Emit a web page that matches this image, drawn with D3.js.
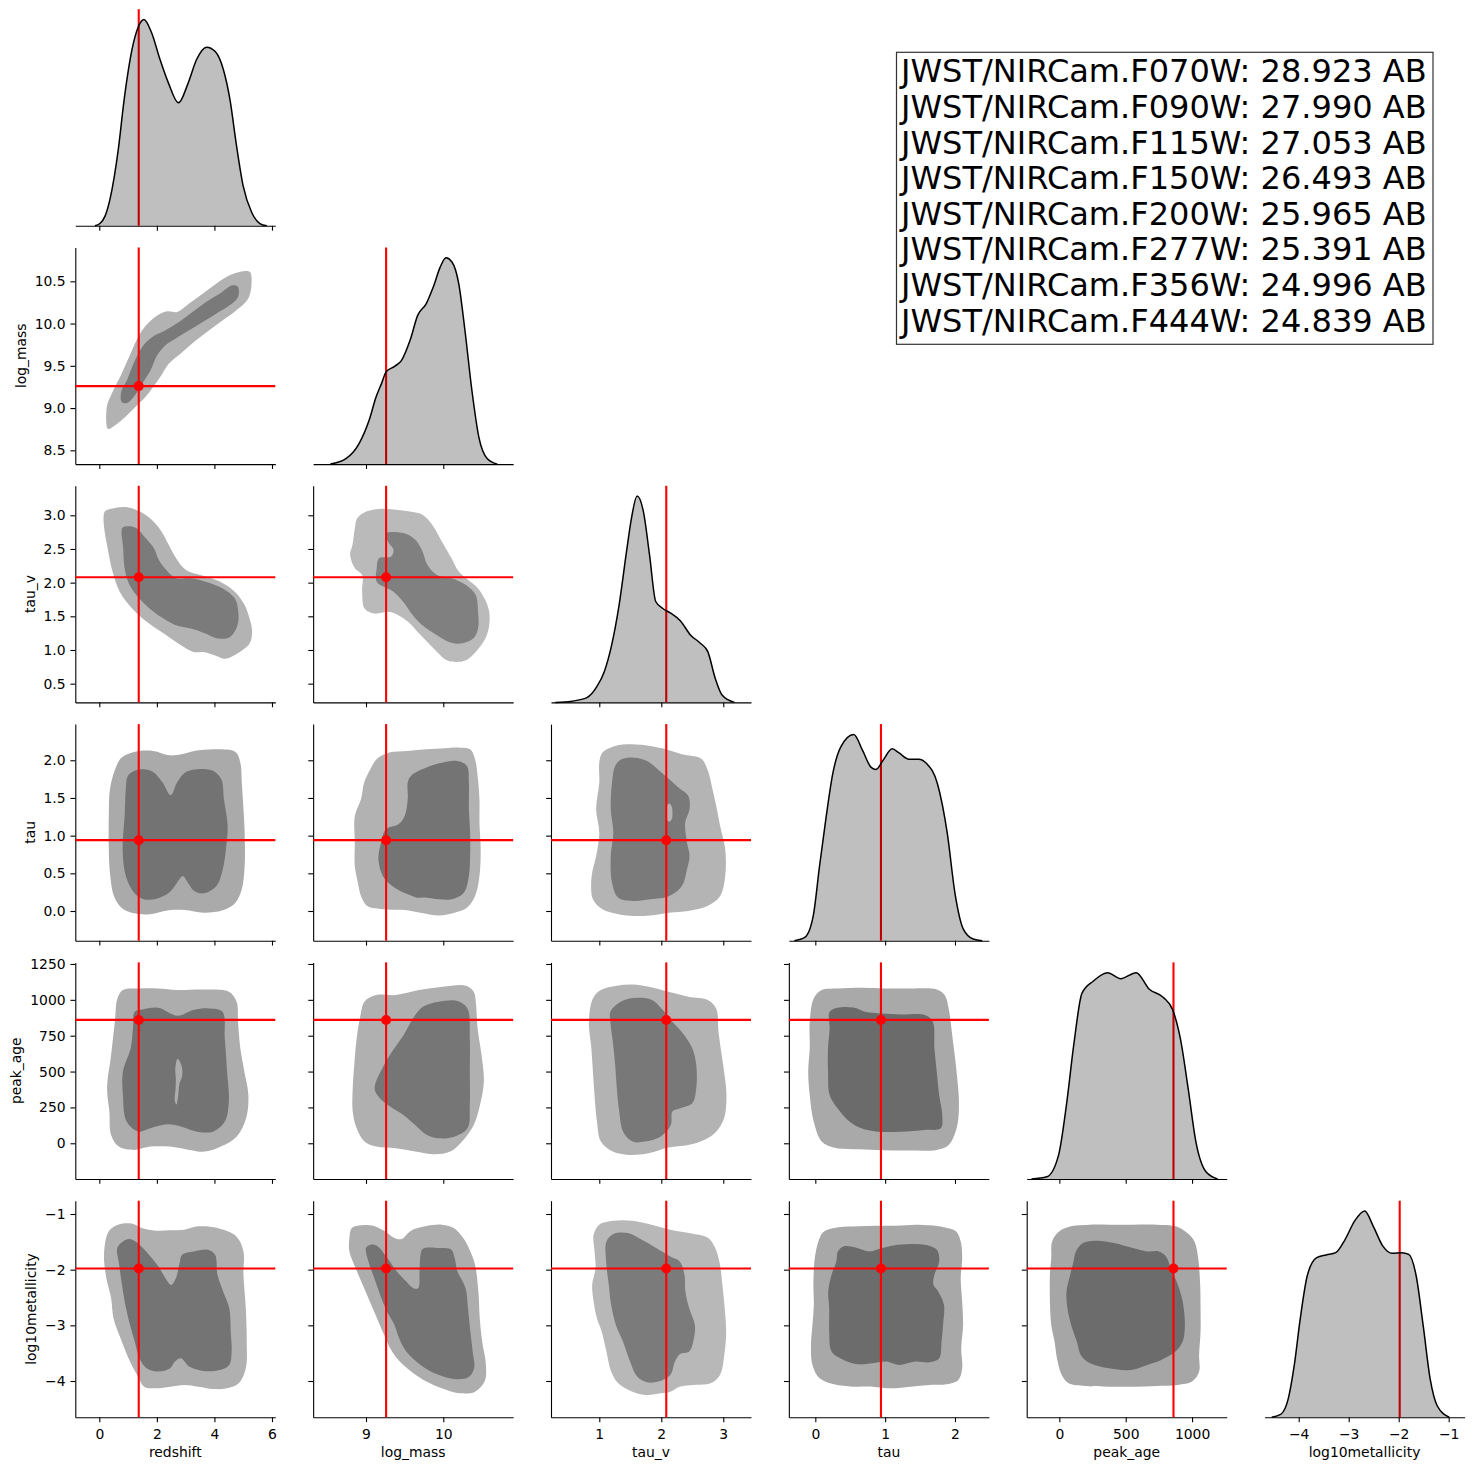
<!DOCTYPE html>
<html><head><meta charset="utf-8">
<script src="https://cdn.jsdelivr.net/npm/d3@7"></script>
<style>body{margin:0;background:#fff}</style>
</head><body>
<svg id="chart" width="1473" height="1470" xmlns="http://www.w3.org/2000/svg"></svg>
<script>
// ---------------- DATA ----------------
const variables = ["redshift","log_mass","tau_v","tau","peak_age","log10metallicity"];
const truthValues = [1.37, 9.26, 2.08, 0.94, 860, -1.98];
const xTickValues = [[0,2,4,6],[9,10],[1,2,3],[0,1,2],[0,500,1000],[-4,-3,-2,-1]];
const yTickValues = [null,[8.5,9.0,9.5,10.0,10.5],[0.5,1.0,1.5,2.0,2.5,3.0],[0.0,0.5,1.0,1.5,2.0],[0,250,500,750,1000,1250],[-4,-3,-2,-1]];
const filterNames = ["JWST/NIRCam.F070W","JWST/NIRCam.F090W","JWST/NIRCam.F115W","JWST/NIRCam.F150W","JWST/NIRCam.F200W","JWST/NIRCam.F277W","JWST/NIRCam.F356W","JWST/NIRCam.F444W"];
const magnitudes = [28.923, 27.990, 27.053, 26.493, 25.965, 25.391, 24.996, 24.839];

// 1D KDE curves [value, relative density]
const kdeRedshift = [[-0.15,0],[0.02,0.011],[0.2,0.047],[0.37,0.128],[0.66,0.37],[0.86,0.608],[1.13,0.85],[1.36,0.966],[1.55,1.0],[1.82,0.935],[2.11,0.806],[2.40,0.693],[2.75,0.596],[3.09,0.693],[3.38,0.806],[3.73,0.866],[4.02,0.846],[4.31,0.758],[4.54,0.612],[4.77,0.386],[5.0,0.192],[5.3,0.063],[5.58,0.011],[5.82,0]];
const kdeLogMass = [[8.54,0],[8.74,0.026],[8.91,0.099],[9.04,0.212],[9.13,0.325],[9.2,0.39],[9.26,0.447],[9.37,0.474],[9.46,0.503],[9.57,0.6],[9.67,0.722],[9.78,0.778],[9.87,0.858],[9.96,0.955],[10.035,1.0],[10.11,0.981],[10.2,0.875],[10.28,0.649],[10.37,0.358],[10.46,0.131],[10.57,0.026],[10.7,0]];
const kdeTauV = [[0.29,0],[0.56,0.006],[0.8,0.023],[0.96,0.076],[1.08,0.149],[1.2,0.279],[1.32,0.473],[1.44,0.733],[1.52,0.895],[1.61,1.0],[1.71,0.927],[1.81,0.716],[1.91,0.489],[2.03,0.454],[2.15,0.433],[2.31,0.395],[2.47,0.327],[2.63,0.287],[2.75,0.246],[2.87,0.117],[2.98,0.036],[3.18,0]];
const kdeTau = [[-0.3,0],[-0.15,0.016],[-0.03,0.12],[0.06,0.36],[0.155,0.6],[0.25,0.81],[0.365,0.94],[0.55,1.0],[0.68,0.92],[0.8,0.84],[0.87,0.83],[0.98,0.88],[1.1,0.93],[1.2,0.91],[1.34,0.88],[1.48,0.88],[1.59,0.86],[1.75,0.76],[1.89,0.52],[2.0,0.23],[2.12,0.056],[2.26,0.008],[2.39,0]];
const kdePeakAge = [[-210,0],[-94,0.011],[-6,0.116],[53,0.357],[111,0.662],[170,0.9],[257,0.96],[363,1.0],[462,0.971],[579,1.0],[678,0.92],[784,0.88],[854,0.82],[912,0.68],[971,0.437],[1029,0.18],[1105,0.035],[1193,0]];
const kdeMetallicity = [[-4.54,0],[-4.35,0.016],[-4.21,0.089],[-4.09,0.25],[-3.97,0.476],[-3.83,0.685],[-3.64,0.774],[-3.45,0.787],[-3.26,0.798],[-3.07,0.863],[-2.88,0.952],[-2.68,1.0],[-2.51,0.927],[-2.32,0.831],[-2.13,0.795],[-1.94,0.798],[-1.8,0.79],[-1.65,0.685],[-1.51,0.444],[-1.37,0.185],[-1.23,0.056],[-0.99,0]];

// 2D KDE contour outlines [x value, y value]
const logMassVsRedshiftOuter = [[0.29,8.756],[0.26,9.013],[0.43,9.17],[0.78,9.41],[1.08,9.64],[1.49,9.92],[1.95,10.08],[2.36,10.145],[2.71,10.137],[3.12,10.236],[3.59,10.354],[4.06,10.472],[4.53,10.571],[4.88,10.61],[5.23,10.61],[5.29,10.472],[5.17,10.295],[4.76,10.157],[4.29,10.038],[3.82,9.92],[3.36,9.802],[2.89,9.664],[2.42,9.526],[2.19,9.407],[1.95,9.289],[1.60,9.131],[1.25,9.013],[0.90,8.894],[0.55,8.796],[0.37,8.756]];
const logMassVsRedshiftInner = [[0.78,9.072],[0.76,9.19],[0.96,9.328],[1.19,9.526],[1.49,9.723],[1.84,9.841],[2.30,9.92],[2.77,10.019],[3.24,10.137],[3.71,10.255],[4.18,10.354],[4.64,10.453],[4.82,10.433],[4.82,10.315],[4.53,10.216],[4.06,10.117],[3.59,10.019],[3.12,9.92],[2.65,9.822],[2.30,9.743],[2.01,9.624],[1.78,9.447],[1.49,9.289],[1.19,9.131],[0.96,9.06]];
const tauVVsRedshiftOuter = [[0.15,2.985],[0.20,3.06],[0.54,3.109],[0.97,3.119],[1.39,3.06],[1.82,2.935],[2.16,2.761],[2.41,2.562],[2.67,2.363],[3.01,2.189],[3.52,2.114],[4.20,2.015],[4.71,1.866],[5.05,1.667],[5.22,1.468],[5.31,1.269],[5.22,1.095],[4.88,0.970],[4.37,0.871],[4.03,0.920],[3.61,0.970],[3.27,0.970],[2.84,1.070],[2.33,1.219],[1.65,1.418],[1.14,1.617],[0.71,1.866],[0.46,2.164],[0.29,2.512],[0.17,2.811]];
const tauVVsRedshiftInner = [[0.80,2.811],[1.00,2.836],[1.28,2.811],[1.56,2.687],[1.90,2.512],[2.07,2.338],[2.33,2.189],[2.67,2.065],[3.18,2.065],[3.69,2.015],[4.29,1.915],[4.71,1.766],[4.83,1.567],[4.80,1.368],[4.54,1.194],[4.12,1.169],[3.69,1.244],[3.18,1.318],[2.67,1.368],[2.33,1.443],[1.82,1.592],[1.39,1.766],[1.05,1.965],[0.88,2.214],[0.83,2.512]];
const tauVVsLogMassOuter = [[8.856,2.811],[8.888,2.96],[9.013,3.06],[9.169,3.095],[9.356,3.085],[9.544,3.06],[9.731,3.01],[9.856,2.861],[9.981,2.612],[10.106,2.363],[10.2,2.164],[10.294,2.065],[10.45,1.915],[10.544,1.741],[10.594,1.567],[10.594,1.368],[10.544,1.169],[10.419,0.970],[10.294,0.846],[10.169,0.821],[10.044,0.846],[9.919,0.970],[9.794,1.119],[9.669,1.269],[9.544,1.418],[9.419,1.517],[9.294,1.567],[9.106,1.542],[8.981,1.617],[8.95,1.866],[8.95,2.114],[8.856,2.214],[8.794,2.413],[8.825,2.562]];
const tauVVsLogMassInner = [[9.263,2.736],[9.481,2.736],[9.638,2.637],[9.731,2.463],[9.794,2.264],[9.919,2.114],[10.106,2.065],[10.294,1.965],[10.419,1.816],[10.45,1.567],[10.45,1.318],[10.388,1.169],[10.231,1.095],[10.075,1.119],[9.919,1.219],[9.731,1.368],[9.606,1.517],[9.481,1.716],[9.356,1.866],[9.231,1.940],[9.138,2.015],[9.138,2.214],[9.169,2.363],[9.325,2.388],[9.356,2.488],[9.294,2.587],[9.263,2.687]];
const tauVsRedshiftOuter = [[0.55,1.881],[0.77,2.035],[1.21,2.111],[1.87,2.124],[2.42,2.066],[2.86,2.08],[3.30,2.124],[4.07,2.146],[4.73,2.111],[4.90,1.969],[4.95,1.704],[5.01,1.350],[5.05,1.04],[5.05,0.597],[4.95,0.288],[4.73,0.111],[4.29,0.009],[3.63,-0.022],[2.97,0.013],[2.42,0.009],[1.76,-0.044],[1.21,-0.031],[0.77,0.044],[0.51,0.199],[0.37,0.509],[0.33,0.819],[0.33,1.261],[0.37,1.615]];
const tauVsRedshiftInner = [[0.99,1.792],[1.21,1.858],[1.54,1.881],[1.87,1.845],[2.20,1.704],[2.48,1.535],[2.70,1.704],[2.97,1.836],[3.41,1.881],[3.96,1.858],[4.24,1.748],[4.33,1.482],[4.46,1.128],[4.40,0.819],[4.29,0.553],[4.07,0.332],[3.63,0.235],[3.30,0.265],[3.08,0.376],[2.90,0.465],[2.70,0.376],[2.42,0.243],[1.98,0.164],[1.54,0.155],[1.21,0.243],[0.92,0.465],[0.81,0.819],[0.88,1.261],[0.92,1.615]];
const tauVsLogMassOuter = [[9.056,1.881],[9.137,2.013],[9.298,2.102],[9.540,2.124],[9.782,2.146],[10.024,2.159],[10.185,2.168],[10.347,2.146],[10.411,2.013],[10.444,1.792],[10.468,1.482],[10.468,1.173],[10.484,0.819],[10.468,0.465],[10.411,0.199],[10.306,0.044],[10.145,-0.022],[9.944,-0.058],[9.702,-0.022],[9.5,0.013],[9.218,0.022],[9.016,0.066],[8.935,0.199],[8.895,0.376],[8.855,0.597],[8.855,0.907],[8.855,1.261],[8.935,1.482],[8.976,1.704]];
const tauVsLogMassInner = [[9.581,1.792],[9.782,1.903],[10.024,1.978],[10.185,1.991],[10.306,1.925],[10.331,1.704],[10.331,1.35],[10.347,1.04],[10.347,0.730],[10.331,0.465],[10.266,0.243],[10.105,0.155],[9.944,0.155],[9.782,0.177],[9.661,0.177],[9.540,0.221],[9.339,0.332],[9.218,0.465],[9.161,0.686],[9.194,0.907],[9.258,1.084],[9.419,1.150],[9.5,1.261],[9.540,1.482],[9.540,1.704]];
const tauVsTauVOuter = [[1.051,2.102],[1.256,2.190],[1.513,2.212],[1.821,2.19],[2.077,2.146],[2.333,2.080],[2.641,2.022],[2.744,1.881],[2.826,1.615],[2.897,1.35],[2.949,1.128],[3.031,0.819],[3.031,0.465],[2.949,0.199],[2.744,0.066],[2.436,0.0],[2.128,-0.022],[1.821,-0.058],[1.564,-0.066],[1.308,-0.044],[1.051,0.022],[0.897,0.155],[0.877,0.465],[0.949,0.730],[1.0,1.04],[0.949,1.35],[1.0,1.704],[1.0,1.969]];
const tauVsTauVInner = [[1.256,1.925],[1.359,2.013],[1.564,2.035],[1.769,1.991],[1.974,1.858],[2.128,1.748],[2.282,1.637],[2.436,1.527],[2.456,1.35],[2.385,1.173],[2.415,0.907],[2.456,0.730],[2.415,0.553],[2.333,0.332],[2.128,0.199],[1.821,0.155],[1.564,0.133],[1.308,0.177],[1.205,0.376],[1.185,0.730],[1.226,1.04],[1.185,1.35],[1.205,1.704]];
const tauVsTauVHole = [[2.128,1.425],[2.17,1.38],[2.18,1.30],[2.17,1.22],[2.128,1.185],[2.085,1.22],[2.075,1.30],[2.085,1.38]];
const peakAgeVsRedshiftOuter = [[0.63,1010],[0.82,1068],[1.36,1079],[2.04,1079],[2.72,1068],[3.68,1072],[4.50,1056],[4.77,987],[4.82,847],[4.90,662],[5.04,499],[5.18,337],[5.10,174],[4.77,46],[4.22,-23],[3.68,-58],[3.13,-46],[2.45,-23],[1.77,-23],[1.23,-46],[0.68,-23],[0.41,58],[0.35,221],[0.27,383],[0.41,615],[0.54,847]];
const peakAgeVsRedshiftInner = [[1.23,917],[1.50,933],[2.04,945],[2.72,889],[3.27,929],[3.81,940],[4.28,917],[4.36,731],[4.44,499],[4.50,290],[4.36,151],[3.95,81],[3.41,81],[2.86,116],[2.37,132],[1.77,104],[1.36,81],[0.95,151],[0.82,337],[0.82,499],[1.09,662],[1.17,801]];
const peakAgeVsRedshiftHole = [[2.72,590],[2.86,540],[2.88,470],[2.78,410],[2.74,330],[2.68,270],[2.62,300],[2.65,380],[2.66,450],[2.64,520]];
const peakAgeVsLogMassOuter = [[8.879,731],[8.929,894],[8.98,987],[9.131,1033],[9.384,1033],[9.687,1068],[9.99,1091],[10.293,1098],[10.394,1056],[10.424,963],[10.444,801],[10.495,615],[10.525,429],[10.475,267],[10.394,128],[10.242,12],[10.091,-58],[9.889,-77],[9.636,-58],[9.384,-35],[9.131,-23],[8.98,12],[8.879,104],[8.828,221],[8.828,383],[8.848,545]];
const peakAgeVsLogMassInner = [[9.111,383],[9.283,592],[9.485,754],[9.636,894],[9.737,952],[9.939,987],[10.192,991],[10.313,940],[10.343,731],[10.343,499],[10.343,267],[10.313,104],[10.141,46],[9.939,35],[9.788,58],[9.636,128],[9.485,197],[9.283,267],[9.162,325]];
const peakAgeVsTauVOuter = [[0.897,1010],[1.026,1068],[1.282,1098],[1.538,1107],[1.795,1091],[2.115,1056],[2.436,1021],[2.756,998],[2.885,940],[2.923,778],[2.974,615],[3.013,499],[3.051,337],[3.013,174],[2.885,81],[2.692,23],[2.436,-12],[2.115,-30],[1.795,-70],[1.474,-81],[1.218,-58],[1.026,12],[0.962,151],[0.923,337],[0.897,499],[0.872,662],[0.833,847]];
const peakAgeVsTauVInner = [[1.179,917],[1.346,987],[1.603,1014],[1.859,998],[2.026,929],[2.179,847],[2.372,754],[2.5,662],[2.564,545],[2.564,383],[2.5,279],[2.308,244],[2.179,221],[2.154,128],[1.987,46],[1.731,12],[1.538,12],[1.385,81],[1.321,221],[1.282,383],[1.256,545],[1.218,708],[1.179,847]];
const peakAgeVsTauOuter = [[-0.023,1010],[0.091,1068],[0.318,1079],[0.659,1084],[1.0,1079],[1.341,1079],[1.739,1072],[1.852,1033],[1.909,940],[1.966,731],[2.023,499],[2.057,267],[2.023,104],[1.909,-12],[1.739,-46],[1.341,-51],[0.886,-46],[0.545,-42],[0.261,-30],[0.091,12],[-0.023,151],[-0.08,337],[-0.102,499],[-0.08,662],[-0.08,847]];
const peakAgeVsTauInner = [[0.205,917],[0.318,945],[0.545,947],[0.716,917],[0.943,905],[1.227,898],[1.568,894],[1.682,847],[1.705,662],[1.739,499],[1.773,337],[1.818,197],[1.795,104],[1.568,93],[1.227,81],[0.886,81],[0.659,104],[0.489,151],[0.318,244],[0.205,337],[0.182,499],[0.182,662],[0.205,801]];
const metalVsRedshiftOuter = [[0.164,-1.732],[0.328,-1.312],[0.657,-1.192],[1.149,-1.174],[1.478,-1.252],[1.970,-1.30],[2.463,-1.294],[2.956,-1.282],[3.448,-1.222],[4.105,-1.252],[4.762,-1.402],[5.008,-1.672],[5.008,-2.092],[5.090,-2.692],[5.123,-3.292],[5.090,-3.771],[4.844,-4.041],[4.433,-4.131],[3.941,-4.143],[3.448,-4.101],[2.956,-4.071],[2.463,-4.101],[1.970,-4.131],[1.560,-4.101],[1.314,-3.891],[1.067,-3.651],[0.739,-3.232],[0.493,-2.872],[0.411,-2.512],[0.246,-2.152]];
const metalVsRedshiftInner = [[0.624,-1.612],[0.821,-1.492],[1.067,-1.45],[1.396,-1.552],[1.724,-1.732],[2.053,-1.942],[2.299,-2.152],[2.496,-2.272],[2.66,-2.152],[2.791,-1.882],[2.874,-1.732],[3.284,-1.672],[3.777,-1.642],[4.023,-1.732],[4.105,-2.092],[4.302,-2.392],[4.516,-2.692],[4.565,-3.112],[4.598,-3.471],[4.516,-3.711],[4.187,-3.801],[3.612,-3.819],[3.120,-3.741],[2.841,-3.592],[2.627,-3.651],[2.463,-3.771],[2.053,-3.831],[1.642,-3.771],[1.396,-3.592],[1.232,-3.292],[1.067,-2.992],[0.903,-2.632],[0.788,-2.272],[0.690,-1.912]];
const metalVsLogMassOuter = [[8.785,-1.432],[8.816,-1.252],[8.939,-1.204],[9.092,-1.21],[9.245,-1.312],[9.368,-1.432],[9.46,-1.45],[9.583,-1.30],[9.767,-1.222],[9.982,-1.192],[10.135,-1.252],[10.258,-1.432],[10.35,-1.672],[10.411,-1.912],[10.454,-2.392],[10.472,-2.872],[10.503,-3.292],[10.552,-3.711],[10.534,-4.011],[10.411,-4.191],[10.227,-4.221],[10.043,-4.161],[9.828,-4.041],[9.644,-3.891],[9.46,-3.681],[9.337,-3.471],[9.215,-3.112],[9.123,-2.812],[9.031,-2.512],[8.939,-2.212],[8.847,-1.912],[8.785,-1.672]];
const metalVsLogMassInner = [[9.0,-1.612],[9.061,-1.552],[9.153,-1.582],[9.276,-1.792],[9.399,-2.032],[9.521,-2.212],[9.613,-2.332],[9.675,-2.332],[9.693,-2.032],[9.706,-1.732],[9.736,-1.624],[9.951,-1.612],[10.104,-1.642],[10.147,-1.792],[10.184,-2.032],[10.288,-2.332],[10.319,-2.692],[10.35,-3.112],[10.380,-3.471],[10.399,-3.771],[10.319,-3.939],[10.135,-3.963],[9.92,-3.879],[9.706,-3.711],[9.521,-3.471],[9.429,-3.232],[9.368,-2.992],[9.294,-2.812],[9.215,-2.572],[9.153,-2.332],[9.092,-2.092],[9.031,-1.852]];
const metalVsTauVOuter = [[0.908,-1.372],[1.0,-1.192],[1.229,-1.12],[1.534,-1.12],[1.840,-1.192],[2.145,-1.282],[2.450,-1.342],[2.756,-1.432],[2.870,-1.612],[2.947,-1.912],[2.985,-2.272],[3.023,-2.692],[3.046,-3.112],[3.023,-3.471],[2.947,-3.891],[2.794,-4.041],[2.527,-4.071],[2.298,-4.101],[2.145,-4.191],[1.992,-4.221],[1.763,-4.251],[1.534,-4.191],[1.305,-4.041],[1.191,-3.831],[1.115,-3.471],[1.038,-3.112],[0.962,-2.872],[0.908,-2.572],[0.885,-2.272],[0.939,-1.972],[0.924,-1.672]];
const metalVsTauVInner = [[1.115,-1.492],[1.229,-1.36],[1.458,-1.342],[1.687,-1.462],[1.916,-1.612],[2.145,-1.762],[2.298,-1.852],[2.374,-2.092],[2.389,-2.392],[2.450,-2.692],[2.542,-2.992],[2.527,-3.232],[2.450,-3.471],[2.298,-3.519],[2.221,-3.651],[2.145,-3.891],[1.954,-4.011],[1.763,-4.023],[1.611,-3.921],[1.496,-3.651],[1.382,-3.292],[1.267,-2.992],[1.191,-2.632],[1.153,-2.272],[1.115,-1.912]];
const metalVsTauOuter = [[0.062,-1.432],[0.130,-1.312],[0.336,-1.24],[0.610,-1.222],[0.884,-1.21],[1.158,-1.21],[1.432,-1.192],[1.637,-1.204],[1.842,-1.24],[2.014,-1.312],[2.082,-1.492],[2.103,-1.792],[2.082,-2.152],[2.103,-2.572],[2.116,-2.992],[2.089,-3.412],[2.103,-3.771],[2.048,-3.981],[1.877,-4.059],[1.637,-4.071],[1.363,-4.101],[1.089,-4.131],[0.815,-4.101],[0.541,-4.101],[0.267,-4.059],[0.062,-3.951],[-0.041,-3.711],[-0.062,-3.352],[-0.041,-2.992],[-0.021,-2.632],[-0.027,-2.272],[-0.007,-1.792]];
const metalVsTauInner = [[0.322,-1.672],[0.404,-1.582],[0.575,-1.60],[0.781,-1.672],[0.952,-1.612],[1.123,-1.564],[1.363,-1.54],[1.568,-1.552],[1.740,-1.642],[1.774,-1.852],[1.705,-2.092],[1.692,-2.272],[1.760,-2.392],[1.842,-2.632],[1.829,-2.992],[1.808,-3.292],[1.774,-3.591],[1.637,-3.663],[1.432,-3.651],[1.192,-3.711],[1.021,-3.651],[0.815,-3.681],[0.610,-3.699],[0.404,-3.621],[0.233,-3.471],[0.199,-3.112],[0.199,-2.692],[0.185,-2.392],[0.233,-2.092],[0.301,-1.852]];
const metalVsPeakAgeOuter = [[-54,-1.492],[0,-1.312],[89,-1.222],[232,-1.192],[375,-1.192],[554,-1.192],[732,-1.192],[875,-1.222],[964,-1.342],[1018,-1.492],[1046,-1.792],[1061,-2.272],[1064,-2.692],[1064,-3.112],[1053,-3.532],[1053,-3.831],[1000,-4.011],[893,-4.071],[732,-4.089],[554,-4.101],[375,-4.101],[196,-4.089],[71,-4.041],[18,-3.891],[-18,-3.591],[-36,-3.292],[-61,-2.992],[-71,-2.572],[-71,-2.092],[-61,-1.792]];
const metalVsPeakAgeInner = [[125,-1.672],[179,-1.522],[286,-1.48],[411,-1.522],[554,-1.612],[661,-1.672],[750,-1.672],[804,-1.762],[839,-1.972],[893,-2.272],[929,-2.572],[946,-2.992],[929,-3.292],[875,-3.471],[768,-3.621],[661,-3.711],[536,-3.801],[375,-3.771],[232,-3.681],[161,-3.531],[132,-3.292],[89,-2.992],[61,-2.692],[54,-2.392],[82,-2.092],[107,-1.852]];

// ---------------- LAYOUT & STYLE ----------------
const kdeByVar = [kdeRedshift,kdeLogMass,kdeTauV,kdeTau,kdePeakAge,kdeMetallicity];
const contourPanels = [
  {row:1,col:0,outer:logMassVsRedshiftOuter,inner:logMassVsRedshiftInner,holes:[]},
  {row:2,col:0,outer:tauVVsRedshiftOuter,inner:tauVVsRedshiftInner,holes:[]},
  {row:2,col:1,outer:tauVVsLogMassOuter,inner:tauVVsLogMassInner,holes:[]},
  {row:3,col:0,outer:tauVsRedshiftOuter,inner:tauVsRedshiftInner,holes:[]},
  {row:3,col:1,outer:tauVsLogMassOuter,inner:tauVsLogMassInner,holes:[]},
  {row:3,col:2,outer:tauVsTauVOuter,inner:tauVsTauVInner,holes:[tauVsTauVHole]},
  {row:4,col:0,outer:peakAgeVsRedshiftOuter,inner:peakAgeVsRedshiftInner,holes:[peakAgeVsRedshiftHole]},
  {row:4,col:1,outer:peakAgeVsLogMassOuter,inner:peakAgeVsLogMassInner,holes:[]},
  {row:4,col:2,outer:peakAgeVsTauVOuter,inner:peakAgeVsTauVInner,holes:[]},
  {row:4,col:3,outer:peakAgeVsTauOuter,inner:peakAgeVsTauInner,holes:[]},
  {row:5,col:0,outer:metalVsRedshiftOuter,inner:metalVsRedshiftInner,holes:[]},
  {row:5,col:1,outer:metalVsLogMassOuter,inner:metalVsLogMassInner,holes:[]},
  {row:5,col:2,outer:metalVsTauVOuter,inner:metalVsTauVInner,holes:[]},
  {row:5,col:3,outer:metalVsTauOuter,inner:metalVsTauInner,holes:[]},
  {row:5,col:4,outer:metalVsPeakAgeOuter,inner:metalVsPeakAgeInner,holes:[]}
];
const panelColors = {
  "1-0":["#b2b2b2","#7a7a7a"],"2-0":["#b3b3b3","#7b7b7b"],"2-1":["#bababa","#808080"],
  "3-0":["#aaaaaa","#737373"],"3-1":["#b2b2b2","#747474"],"3-2":["#b4b4b4","#7a7a7a"],
  "4-0":["#adadad","#737373"],"4-1":["#b0b0b0","#767676"],"4-2":["#b3b3b3","#787878"],"4-3":["#a9a9a9","#6b6b6b"],
  "5-0":["#b0b0b0","#747474"],"5-1":["#adadad","#747474"],"5-2":["#b8b8b8","#7b7b7b"],"5-3":["#a8a8a8","#6c6c6c"],"5-4":["#a6a6a6","#6c6c6c"]
};
const xDomains=[[-0.834,6.115],[8.316,10.904],[0.221,3.447],[-0.379,2.485],[-246,1261],[-4.683,-0.683]];
const yDomains=[null,[8.337,10.9],[0.222,3.438],[-0.394,2.48],[-249,1261],[-4.652,-0.761]];
const xFormats=["d","d","d","d","d","d"];
const yFormats=[null,".1f",".1f",".1f","d","d"];
const colLeft = c => 75.3 + 237.85*c;
const rowTop = r => 9.2 + 238.3*r;
const PW = 200, PH = 216.6;
const FONT = "'DejaVu Sans', sans-serif";
const FS = 13.9, TICK = 4.86, PAD = 4.86;

const svg = d3.select("#chart");
svg.append("rect").attr("width",1473).attr("height",1470).attr("fill","#fff");

const xScales = xDomains.map((d,c)=>d3.scaleLinear().domain(d).range([colLeft(c), colLeft(c)+PW]));
const yScales = yDomains.map((d,r)=>d ? d3.scaleLinear().domain(d).range([rowTop(r)+PH, rowTop(r)]) : null);

function styleAxis(g){
  g.select(".domain").attr("stroke","#000").attr("stroke-width",1.1);
  g.selectAll(".tick line").attr("stroke","#000").attr("stroke-width",1.1);
  g.selectAll(".tick text").attr("fill","#000").style("font-family",FONT).style("font-size",FS+"px");
}

// contours
contourPanels.forEach(p=>{
  const xs = xScales[p.col], ys = yScales[p.row];
  const cols = panelColors[p.row+"-"+p.col];
  const line = d3.line().x(d=>xs(d[0])).y(d=>ys(d[1])).curve(d3.curveCatmullRomClosed.alpha(0.5));
  const g = svg.append("g");
  g.append("path").attr("d",line(p.outer)).attr("fill",cols[0]);
  g.append("path").attr("d",line(p.inner)).attr("fill",cols[1]);
  p.holes.forEach(h=>g.append("path").attr("d",line(h)).attr("fill",cols[0]));
});

// axes
for(let r=0;r<6;r++){
  for(let c=0;c<=r;c++){
    const bottom = rowTop(r)+PH;
    const ax = d3.axisBottom(xScales[c]).tickValues(xTickValues[c]).tickSize(TICK).tickPadding(PAD).tickSizeOuter(0)
      .tickFormat(r===5 ? d3.format(xFormats[c]) : "");
    const gx = svg.append("g").attr("transform",`translate(0,${bottom})`).call(ax);
    styleAxis(gx);
    gx.selectAll(".tick text").attr("dy","0.86em");
    if(c<r){
      const ay = d3.axisLeft(yScales[r]).tickValues(yTickValues[r]).tickSize(TICK).tickPadding(PAD).tickSizeOuter(0)
        .tickFormat(c===0 ? d3.format(yFormats[r]) : "");
      const gy = svg.append("g").attr("transform",`translate(${colLeft(c)},0)`).call(ay);
      styleAxis(gy);
      if(c===0){
        let maxW=0;
        gy.selectAll(".tick text").each(function(){maxW=Math.max(maxW,this.getBBox().width);});
        const anchorX = colLeft(0) - TICK - PAD - maxW - 5.56;
        svg.append("text").attr("transform",`translate(${anchorX-3.3},${rowTop(r)+PH/2}) rotate(-90)`)
          .attr("text-anchor","middle").style("font-family",FONT).style("font-size",FS+"px").attr("fill","#000")
          .text(variables[r]);
      }
    }
  }
  // x labels
  svg.append("text").attr("x",colLeft(r)+PW/2).attr("y",rowTop(5)+PH+40)
    .attr("text-anchor","middle").style("font-family",FONT).style("font-size",FS+"px").attr("fill","#000")
    .text(variables[r]);
}

// diagonal KDEs
for(let i=0;i<6;i++){
  const xs = xScales[i];
  const data = kdeByVar[i];
  const maxD = d3.max(data,d=>d[1]);
  const ys = d3.scaleLinear().domain([0,maxD*1.05]).range([rowTop(i)+PH,rowTop(i)]);
  const g = svg.append("g");
  g.append("line").attr("x1",xs(truthValues[i])).attr("x2",xs(truthValues[i]))
    .attr("y1",rowTop(i)).attr("y2",rowTop(i)+PH).attr("stroke","#ff0000").attr("stroke-width",2.1);
  const area = d3.area().x(d=>xs(d[0])).y0(ys(0)).y1(d=>ys(d[1])).curve(d3.curveMonotoneX);
  g.append("path").attr("d",area(data)).attr("fill","#000").attr("fill-opacity",0.25);
  const ln = d3.line().x(d=>xs(d[0])).y(d=>ys(d[1])).curve(d3.curveMonotoneX);
  g.append("path").attr("d",ln(data)).attr("fill","none").attr("stroke","#000").attr("stroke-width",1.5);
}

// truth lines on off-diagonal panels
for(let r=1;r<6;r++){
  for(let c=0;c<r;c++){
    const xs=xScales[c], ys=yScales[r];
    const g = svg.append("g");
    g.append("line").attr("x1",xs(truthValues[c])).attr("x2",xs(truthValues[c]))
      .attr("y1",rowTop(r)).attr("y2",rowTop(r)+PH).attr("stroke","#ff0000").attr("stroke-width",2.1);
    g.append("line").attr("x1",colLeft(c)).attr("x2",colLeft(c)+PW)
      .attr("y1",ys(truthValues[r])).attr("y2",ys(truthValues[r])).attr("stroke","#ff0000").attr("stroke-width",2.1);
    g.append("circle").attr("cx",xs(truthValues[c])).attr("cy",ys(truthValues[r])).attr("r",5).attr("fill","#ff0000");
  }
}

// magnitude text box
const tb = svg.append("g");
const lines = filterNames.map((f,i)=>`${f}: ${magnitudes[i].toFixed(3)} AB`);
const txt = tb.selectAll("text.mag").data(lines).enter().append("text").attr("class","mag")
  .attr("x",901).attr("y",(d,i)=>82.3+35.6*i)
  .style("font-family",FONT).style("font-size","30px").attr("fill","#000").text(d=>d);
let w0 = txt.node().getComputedTextLength();
const fs = 30*526/w0;
txt.style("font-size",fs+"px");
tb.insert("rect","text").attr("x",896.5).attr("y",52.3).attr("width",1433-896.5).attr("height",344.3-52.3)
  .attr("fill","#fff").attr("stroke","#333").attr("stroke-width",1.2);
</script>
</body></html>
